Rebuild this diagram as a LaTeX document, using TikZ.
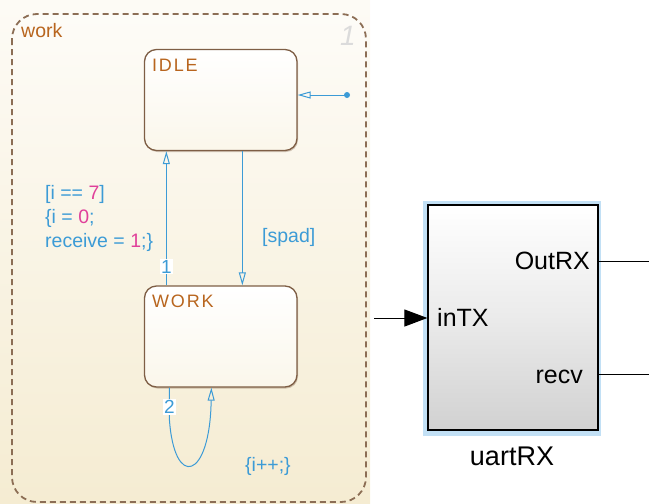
\documentclass[tikz,border=0pt]{standalone}
\usepackage{fontspec}
\setmainfont{Liberation Sans}
\usetikzlibrary{arrows.meta,shadows}
\definecolor{chartbg}{HTML}{FBF7EC}
\definecolor{chartbgb}{HTML}{F5ECD2}
\definecolor{dashbrown}{HTML}{8C6E55}
\definecolor{statebrown}{HTML}{7E5E45}
\definecolor{labelorange}{HTML}{B8651E}
\definecolor{transblue}{HTML}{3C9BD6}
\definecolor{numpink}{HTML}{E0409A}
\definecolor{hlblue}{HTML}{C2E0F5}
\begin{document}
\begin{tikzpicture}[x=1pt,y=-1pt,
  chart/.style={draw=dashbrown,line width=1.8pt,dash pattern=on 6pt off 4pt,rounded corners=25pt,top color=white!60!chartbg,bottom color=chartbgb},
  statebox/.style={draw=statebrown,line width=1.3pt,rounded corners=12pt,top color=white,bottom color=white!55!chartbgb,
    minimum width=152.5pt,minimum height=101pt,inner sep=0pt,
    drop shadow={shadow xshift=1pt,shadow yshift=-1.5pt,opacity=0.35,fill=statebrown}},
  slabel/.style={text=labelorange,font=\fontsize{18}{18}\selectfont\addfontfeature{LetterSpace=10},anchor=base west,inner sep=0pt},
  trans/.style={draw=transblue,line width=1pt,-{Triangle[open,length=13pt,width=7pt]}},
  tlabel/.style={text=transblue,font=\fontsize{19.5}{24}\selectfont,anchor=base west,inner sep=0pt},
  tnum/.style={text=transblue,font=\fontsize{19}{19}\selectfont,fill=white,inner sep=1pt},
  blk/.style={draw=black,line width=1.2pt,top color=white,bottom color=black!18,middle color=white!92!black,
    minimum width=170pt,minimum height=225pt,inner sep=0pt},
  port/.style={font=\fontsize{25}{26}\selectfont,inner sep=0pt},
  sig/.style={draw=black,line width=1pt}
]
\useasboundingbox (0,0) rectangle (649,504);
% chart canvas
\shade[top color=white!50!chartbg,bottom color=chartbgb] (0,0) rectangle (370,504);
\draw[chart] (12,14) rectangle (366,502);
\node[text=labelorange,font=\fontsize{19.5}{20}\selectfont,anchor=base west,inner sep=0pt] (wlab) at (21,37) {work};
\node[text=black!14,font=\fontsize{28}{28}\selectfont\itshape,inner sep=0pt] (num) at (348,36) {1};
% states
\node[statebox] (idle) at (220.75,100) {};
\node[statebox] (work) at (220.75,336.5) {};
\node[slabel] (idlelab) at (152,71) {IDLE};
\node[slabel] (worklab) at (152,307) {WORK};
% default transition
\coordinate (dot) at (347,95);
\fill[transblue] (dot) circle (3pt);
\draw[trans] (dot) -- (dot -| idle.east);
% transitions
\draw[trans] ([xshift=22.5pt]work.north west) -- node[tnum,pos=0.14] (one) {1} ([xshift=22.5pt]idle.south west);
\draw[trans] ([xshift=98.5pt]idle.south west) -- ([xshift=98.5pt]work.south west |- work.north);
\draw[trans] ([xshift=25.5pt]work.south west) -- ++(0,31) node[tnum,pos=0.62] (two) {2}
  .. controls (174,490) and (210,480) .. ([xshift=67.5pt]work.south west);
% transition labels
\node[tlabel] (g1) at (45,199) {[i == \textcolor{numpink}{7}]};
\node[tlabel] (g2) at (45,223) {\{i = \textcolor{numpink}{0};};
\node[tlabel] (g3) at (45,247) {receive = \textcolor{numpink}{1};\}};
\node[tlabel] (sp) at (262,242) {[spad]};
\node[tlabel] (inc) at (245,471) {\{i++;\}};
% block
\fill[hlblue] (423,201) rectangle (601,436);
\node[blk] (uart) at (513,317.5) {};
\node[port,anchor=base east] (outrx) at (590,269) {OutRX};
\node[port,anchor=base west] (intx) at (437,326) {inTX};
\node[port,anchor=base east] (recv) at (583,383) {recv};
\node[port,anchor=base,font=\fontsize{27}{28}\selectfont] (uname) at (512,465) {uartRX};
\coordinate (in) at (374,318);
\coordinate (o1) at (649,261);
\coordinate (o2) at (649,374);
\draw[sig,-{Triangle[length=23pt,width=17pt]}] (in) -- (in -| uart.west);
\draw[sig] (o1 -| uart.east) -- (o1);
\draw[sig] (o2 -| uart.east) -- (o2);
\end{tikzpicture}
\end{document}
